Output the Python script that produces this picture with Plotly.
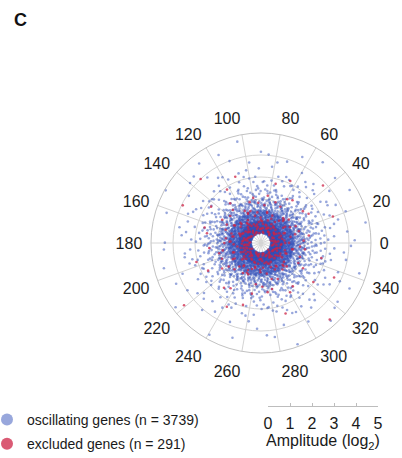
import numpy as np
import plotly.graph_objects as go

# ---- data ---------------------------------------------------------------
# Amplitude (log2) bin edges and number of genes falling in each bin
amp_bin_edges = [0.45, 0.75, 1.0, 1.5, 2.0, 2.5, 3.0, 3.5, 4.0, 4.5, 5.0]
oscillating_counts = [850, 800, 1050, 520, 250, 130, 70, 35, 20, 14]   # n = 3739
excluded_counts = [75, 65, 75, 35, 18, 11, 6, 3, 2, 1]                 # n = 291

# Relative density of peak phase per 20-degree sector (0-20, 20-40, ..., 340-360)
oscillating_phase_weight = [1.20, 1.10, 1.00, 0.90, 0.85, 0.90, 0.95, 1.00, 1.05,
                            1.05, 1.00, 0.95, 0.90, 0.90, 1.00, 1.05, 1.10, 1.20]
excluded_phase_weight = [1.00, 1.00, 1.05, 1.00, 0.95, 1.00, 1.05, 1.10, 1.10,
                         1.05, 1.00, 1.00, 0.95, 0.95, 1.00, 1.00, 1.00, 1.00]

angle_ticks = list(range(0, 360, 20))
amplitude_ticks = [0, 1, 2, 3, 4, 5]

SECTOR = 20.0


def radical_inverse(k, base):
    """Van der Corput radical inverse of integer array k in the given base."""
    k = np.asarray(k, dtype=np.int64).copy()
    out = np.zeros(k.shape, float)
    f = 1.0 / base
    while np.any(k > 0):
        out += f * (k % base)
        k //= base
        f /= base
    return out


def spread_points(edges, counts, weights, start):
    """Spread each bin's genes evenly over its annulus (Halton 2/3 sequence),
    with angles following the per-sector phase density."""
    w = np.asarray(weights, float)
    cdf = np.concatenate([[0.0], np.cumsum(w) / w.sum()])
    thetas, radii = [], []
    k0 = start
    for lo, hi, n in zip(edges[:-1], edges[1:], counts):
        k = np.arange(n) + k0
        k0 += n
        u = radical_inverse(k, 2)
        v = radical_inverse(k, 3)
        idx = np.clip(np.searchsorted(cdf, u, side="right") - 1, 0, len(w) - 1)
        frac = (u - cdf[idx]) / (cdf[idx + 1] - cdf[idx])
        thetas.append((idx + frac) * SECTOR)
        radii.append(np.sqrt(lo ** 2 + v * (hi ** 2 - lo ** 2)))
    return np.concatenate(thetas), np.concatenate(radii)


osc_theta, osc_r = spread_points(amp_bin_edges, oscillating_counts, oscillating_phase_weight, 1)
exc_theta, exc_r = spread_points(amp_bin_edges, excluded_counts, excluded_phase_weight, 7001)

fig = go.Figure()

fig.add_trace(go.Scatterpolar(
    r=osc_r, theta=osc_theta, mode="markers",
    name=f"oscillating genes (n = {sum(oscillating_counts)})", legendgroup="osc",
    marker=dict(size=2.6, color="rgba(50,80,185,0.5)", line=dict(width=0)),
    hoverinfo="skip",
))
fig.add_trace(go.Scatterpolar(
    r=exc_r, theta=exc_theta, mode="markers",
    name=f"excluded genes (n = {sum(excluded_counts)})", legendgroup="exc",
    marker=dict(size=2.6, color="rgba(205,35,70,0.75)", line=dict(width=0)),
    hoverinfo="skip",
))

# amplitude scale bar
fig.add_trace(go.Scatter(
    x=[amplitude_ticks[0], amplitude_ticks[-1]], y=[0, 0], mode="markers",
    marker=dict(opacity=0), showlegend=False, hoverinfo="skip",
    xaxis="x", yaxis="y",
))

W, H = 402, 458
cx, cy, R = 261, 243, 110
grid = "#d4d4d4"

fig.update_layout(
    width=W, height=H,
    margin=dict(l=0, r=0, t=0, b=0, autoexpand=False),
    paper_bgcolor="white", plot_bgcolor="white",
    font=dict(family="Liberation Sans, Arial, sans-serif", color="#1a1a1a"),
    showlegend=True,
    polar=dict(
        domain=dict(x=[(cx - R) / W, (cx + R) / W], y=[(H - cy - R) / H, (H - cy + R) / H]),
        bgcolor="white",
        angularaxis=dict(
            rotation=0, direction="counterclockwise",
            tickmode="array", tickvals=angle_ticks,
            ticktext=[str(a) for a in angle_ticks],
            tickfont=dict(size=16, color="#1a1a1a"),
            ticks="outside", ticklen=5, tickcolor="rgba(0,0,0,0)",
            showline=True, linecolor="#c2c2c2", linewidth=1,
            showgrid=True, gridcolor=grid, gridwidth=1,
        ),
        radialaxis=dict(
            range=[0, 5], tickmode="array", tickvals=[1, 2, 3, 4, 5],
            showticklabels=False, showline=False, ticks="",
            showgrid=True, gridcolor=grid, gridwidth=1,
        ),
    ),
    xaxis=dict(
        domain=[268 / W, 378 / W], range=[0, 5],
        tickmode="array", tickvals=amplitude_ticks,
        ticktext=[str(t) for t in amplitude_ticks],
        showline=True, linecolor="#bdbdbd", linewidth=1,
        ticks="inside", ticklen=3, tickcolor="#bdbdbd",
        tickfont=dict(size=16, color="#1a1a1a"),
        ticklabelstandoff=3,
        showgrid=False, zeroline=False, fixedrange=True,
        title=dict(text="Amplitude (log<sub>2</sub>)", font=dict(size=16, color="#1a1a1a"), standoff=2),
    ),
    yaxis=dict(domain=[(H - 406) / H, (H - 400) / H], range=[0, 1], visible=False, fixedrange=True),
    legend=dict(
        x=-13 / W, xanchor="left", y=-2 / H, yanchor="bottom",
        bgcolor="rgba(0,0,0,0)", font=dict(size=14, color="#1a1a1a"),
        itemsizing="constant", traceorder="grouped", tracegroupgap=3,
    ),
    annotations=[dict(
        text="<b>C</b>", x=20 / W, y=1 - 20 / H, xref="paper", yref="paper",
        xanchor="center", yanchor="middle", showarrow=False,
        font=dict(size=18, color="#111111"),
    )],
)

fig.write_html("out.html")
